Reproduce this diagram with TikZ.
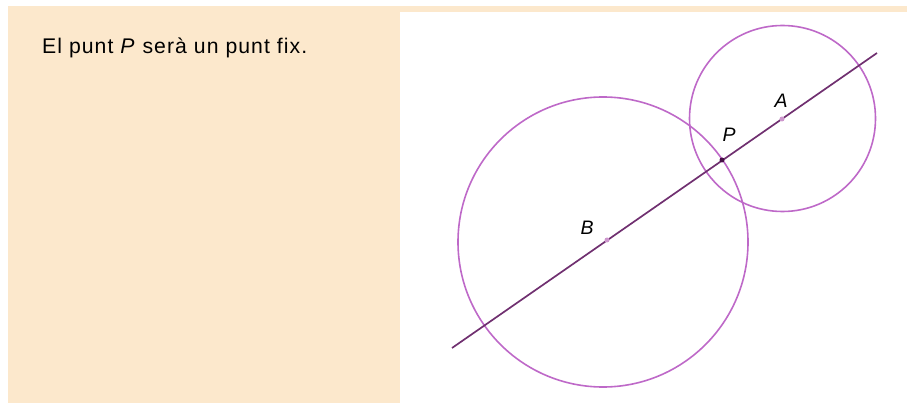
\documentclass[tikz,border=0pt]{standalone}
\usepackage{fontspec}
\setmainfont{Liberation Sans}
\newfontfamily\panelfont[LetterSpace=5]{Liberation Sans}
\usepackage{tikz}
\usetikzlibrary{positioning, calc}
\definecolor{cPanel}{RGB}{252,232,204}
\definecolor{cCircle}{RGB}{190,105,200}
\definecolor{cLine}{RGB}{112,48,112}
\definecolor{cDot}{RGB}{205,150,205}
\definecolor{cFix}{RGB}{70,15,70}
\tikzset{
	circ/.style ={draw=cCircle, line width=1.6pt},
	recta/.style={draw=cLine, line width=1.7pt},
	pt/.style   ={circle, fill=cDot, inner sep=0pt, minimum size=5pt},
	fixpt/.style={circle, fill=cFix, inner sep=0pt, minimum size=5pt},
	lbl/.style  ={font=\fontsize{19.5}{21}\selectfont\itshape, inner sep=0pt},
}
\begin{document}
\begin{tikzpicture}[x=1pt, y=-1pt]
	\useasboundingbox (0,0) rectangle (907,403);
	% panel and top strip
	\fill[cPanel] (8,6) rectangle (400,403);
	\fill[cPanel] (400,6) rectangle (907,12);
	\node[anchor=base west, inner sep=0pt, font=\panelfont\fontsize{21.2}{23}\selectfont] (txt) at (42,54) {El punt \textit{P} serà un punt fix.};
	% circles
	\draw[circ] (603,242) circle (145);
	\draw[circ] (782.5,118.5) circle (93);
	% line through B, P, A
	\coordinate (e1) at (452,348);
	\coordinate (e2) at (877,53);
	\draw[recta] (e1) -- (e2);
	\node[pt] (B) at (607,240) {};
	\node[pt] (A) at (782,119) {};
	\node[fixpt] (P) at (722,160) {};
	\node[lbl] at (587,228) {B};
	\node[lbl] at (781,101) {A};
	\node[lbl] at (729,135) {P};
\end{tikzpicture}
\end{document}
